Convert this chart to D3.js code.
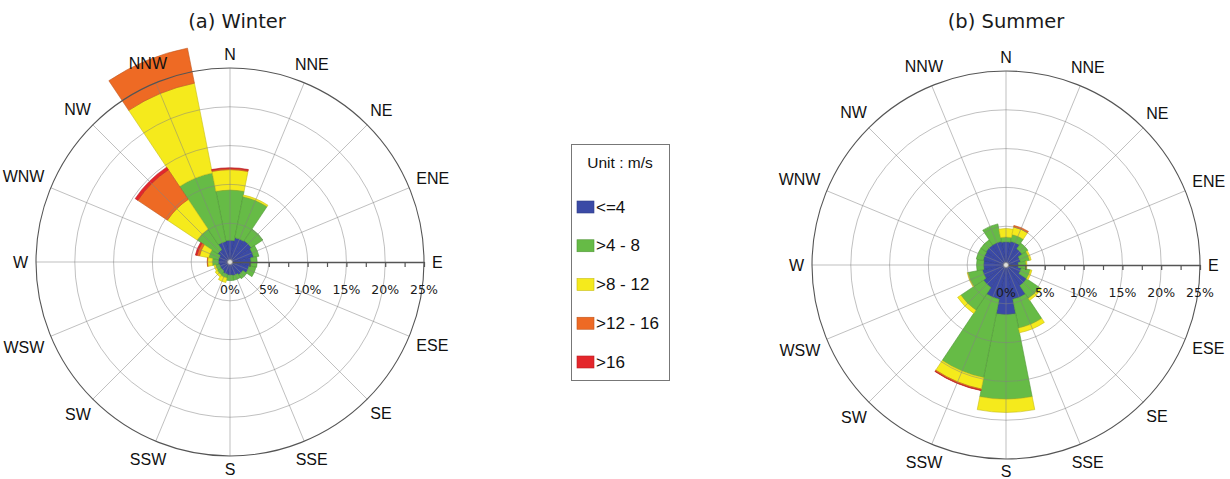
<!DOCTYPE html>
<html>
<head>
<meta charset="utf-8">
<script src="https://cdn.jsdelivr.net/npm/d3@7"></script>
<style>
  body { margin: 0; background: #fff; }
  svg { display: block; }
</style>
</head>
<body>
<svg id="chart" width="1230" height="479"></svg>
<script>
// Compass sectors, clockwise from north
const directions = ["N", "NNE", "NE", "ENE", "E", "ESE", "SE", "SSE",
                    "S", "SSW", "SW", "WSW", "W", "WNW", "NW", "NNW"];
// Wind-speed classes (m/s)
const speedBins = ["<=4", ">4 - 8", ">8 - 12", ">12 - 16", ">16"];
const binColors = ["#3b4aa6", "#66bb46", "#f5ea1c", "#ee6a24", "#e4262b"];

// Winter frequencies (%) per speed class, one value per direction
const winterLe4   = [2.8, 3.2, 3.3, 3.1, 2.7, 2.5, 2.0, 1.8, 1.7, 1.6, 1.4, 1.4, 1.5, 1.5, 1.9, 2.7];
const winter4to8  = [6.5, 5.4, 1.8, 0.7, 0.8, 0.9, 0.6, 0.6, 0.7, 0.5, 0.6, 0.5, 0.8, 1.3, 3.2, 9.0];
const winter8to12 = [2.6, 0.2, 0.0, 0.0, 0.0, 0.0, 0.0, 0.0, 0.0, 0.6, 0.3, 0.2, 0.6, 1.2, 4.6, 11.8];
const winter12to16= [0.15, 0.0, 0.0, 0.0, 0.0, 0.0, 0.0, 0.0, 0.0, 0.0, 0.0, 0.0, 0.05, 0.35, 4.6, 4.6];
const winterGt16  = [0.1, 0.0, 0.0, 0.0, 0.0, 0.0, 0.0, 0.0, 0.0, 0.0, 0.0, 0.0, 0.0, 0.2, 0.4, 0.0];

// Summer frequencies (%) per speed class
const summerLe4   = [3.0, 3.1, 2.5, 1.9, 1.6, 2.0, 3.2, 4.5, 6.4, 4.5, 3.5, 3.1, 2.9, 3.0, 3.1, 3.1];
const summer4to8  = [0.6, 0.9, 0.9, 1.2, 1.0, 1.2, 2.0, 3.8, 10.9, 10.3, 3.5, 1.9, 0.9, 0.9, 0.8, 2.3];
const summer8to12 = [1.1, 1.0, 0.0, 0.2, 0.1, 0.2, 0.3, 0.6, 1.7, 1.5, 0.5, 0.1, 0.0, 0.0, 0.0, 0.0];
const summer12to16= [0.0, 0.2, 0.0, 0.0, 0.0, 0.0, 0.0, 0.0, 0.0, 0.15, 0.0, 0.0, 0.0, 0.0, 0.0, 0.0];
const summerGt16  = [0.0, 0.0, 0.0, 0.0, 0.0, 0.0, 0.0, 0.0, 0.0, 0.05, 0.0, 0.0, 0.0, 0.0, 0.0, 0.0];

// Radial axis
const radialTicks = [2.5, 5, 7.5, 10, 12.5, 15, 17.5, 20, 22.5, 25];
const tickLabels  = ["0%", "5%", "10%", "15%", "20%", "25%"];
const gridRings   = [5, 10, 15, 20];
const maxPercent  = 25;

const W = 1230, H = 479;
const svg = d3.select("#chart");
const R = 194;
const rScale = d3.scaleLinear().domain([0, maxPercent]).range([0, R]);
const sectorWidth = 2 * Math.PI / directions.length;
const angle = d3.scaleBand()
  .domain(directions)
  .range([-sectorWidth / 2, 2 * Math.PI - sectorWidth / 2])
  .padding(0);

function drawRose(cx, cy, titleText, titleX, series) {
  const g = svg.append("g").attr("transform", `translate(${cx},${cy})`);

  // stacked sectors
  const rows = directions.map((d, i) => {
    const o = { dir: d };
    speedBins.forEach((b, j) => { o[b] = series[j][i]; });
    return o;
  });
  const stacked = d3.stack().keys(speedBins)(rows);
  const arc = d3.arc()
    .innerRadius(d => rScale(d[0]))
    .outerRadius(d => rScale(d[1]))
    .startAngle(d => angle(d.data.dir))
    .endAngle(d => angle(d.data.dir) + angle.bandwidth());

  const layers = g.append("g").attr("class", "bars");
  stacked.forEach((layer, j) => {
    layers.append("g")
      .selectAll("path")
      .data(layer.filter(d => d[1] - d[0] > 0))
      .join("path")
      .attr("d", arc)
      .attr("fill", binColors[j])
      .attr("stroke", d3.color(binColors[j]).darker(0.6))
      .attr("stroke-width", 0.6);
  });

  // grid over the bars
  const grid = g.append("g").attr("class", "grid");
  grid.selectAll("circle.ring")
    .data(gridRings)
    .join("circle")
    .attr("class", "ring")
    .attr("r", d => rScale(d))
    .attr("fill", "none")
    .attr("stroke", "rgba(130,130,130,0.5)")
    .attr("stroke-width", 1);
  grid.selectAll("line.spoke")
    .data(directions.filter(d => d !== "E"))
    .join("line")
    .attr("class", "spoke")
    .attr("x1", 0).attr("y1", 0)
    .attr("x2", d => R * Math.sin(angle(d) + angle.bandwidth() / 2))
    .attr("y2", d => -R * Math.cos(angle(d) + angle.bandwidth() / 2))
    .attr("stroke", "rgba(130,130,130,0.5)")
    .attr("stroke-width", 1);

  // outer ring
  g.append("circle")
    .attr("r", rScale(maxPercent))
    .attr("fill", "none")
    .attr("stroke", "#555")
    .attr("stroke-width", 1.1);

  // radial axis along east
  const axis = d3.axisBottom(rScale)
    .tickValues(radialTicks)
    .tickSizeInner(5)
    .tickSizeOuter(0)
    .tickFormat("");
  const ax = g.append("g").call(axis);
  ax.select(".domain").attr("stroke", "#555").attr("stroke-width", 1.3);
  ax.selectAll(".tick line").attr("stroke", "#555").attr("stroke-width", 1.2);

  g.append("g").selectAll("text")
    .data(tickLabels)
    .join("text")
    .attr("x", (d, i) => rScale(i * 5))
    .attr("y", 27)
    .attr("text-anchor", "middle")
    .attr("dominant-baseline", "central")
    .attr("font-family", "DejaVu Sans, Verdana, sans-serif")
    .attr("font-size", 12.5)
    .attr("fill", "#1a1a1a")
    .text(d => d);

  // centre marker
  g.append("circle").attr("r", 2.5).attr("fill", "#ddd").attr("stroke", "#888").attr("stroke-width", 0.8);

  // compass labels
  const lab = g.append("g").selectAll("text")
    .data(directions)
    .join("text")
    .attr("text-anchor", "middle")
    .attr("dominant-baseline", "central")
    .attr("font-family", "Liberation Sans, Arial, sans-serif")
    .attr("font-size", 16)
    .attr("fill", "#111")
    .text(d => d);
  lab.each(function(d) {
    const a = angle(d) + angle.bandwidth() / 2;
    const w = this.getComputedTextLength();
    const h = 11.5;
    const r = R + 8 + Math.abs(Math.sin(a)) * w / 2 + Math.abs(Math.cos(a)) * h / 2;
    // keep the label inside the drawing area
    const y = Math.min(-r * Math.cos(a), H - cy - 8);
    d3.select(this).attr("x", r * Math.sin(a)).attr("y", y);
  });

  svg.append("text")
    .attr("x", titleX)
    .attr("y", 28)
    .attr("text-anchor", "middle")
    .attr("font-family", "DejaVu Sans, Verdana, sans-serif")
    .attr("font-size", 19.5)
    .attr("fill", "#1a1a1a")
    .text(titleText);
}

drawRose(230, 262, "(a) Winter", 237,
  [winterLe4, winter4to8, winter8to12, winter12to16, winterGt16]);
drawRose(1006, 265, "(b) Summer", 1006,
  [summerLe4, summer4to8, summer8to12, summer12to16, summerGt16]);

// legend
const legend = svg.append("g");
legend.append("rect")
  .attr("x", 571.5).attr("y", 144.5)
  .attr("width", 98).attr("height", 236)
  .attr("fill", "#fff").attr("stroke", "#777").attr("stroke-width", 1);
legend.append("text")
  .attr("x", 620).attr("y", 162)
  .attr("text-anchor", "middle")
  .attr("dominant-baseline", "central")
  .attr("font-family", "Liberation Sans, Arial, sans-serif")
  .attr("font-size", 15.5)
  .attr("fill", "#111")
  .text("Unit : m/s");
const legendY = d3.scalePoint().domain(speedBins).range([207, 362]);
const item = legend.selectAll("g.item")
  .data(speedBins)
  .join("g")
  .attr("class", "item")
  .attr("transform", d => `translate(577,${legendY(d)})`);
item.append("rect")
  .attr("x", 0).attr("y", -6)
  .attr("width", 17).attr("height", 12)
  .attr("fill", (d, i) => binColors[i])
  .attr("stroke", (d, i) => d3.color(binColors[i]).darker(0.6))
  .attr("stroke-width", 0.6);
item.append("text")
  .attr("x", 19).attr("y", 0)
  .attr("dominant-baseline", "central")
  .attr("font-family", "Liberation Sans, Arial, sans-serif")
  .attr("font-size", 17)
  .attr("fill", "#111")
  .text(d => d);
</script>
</body>
</html>
